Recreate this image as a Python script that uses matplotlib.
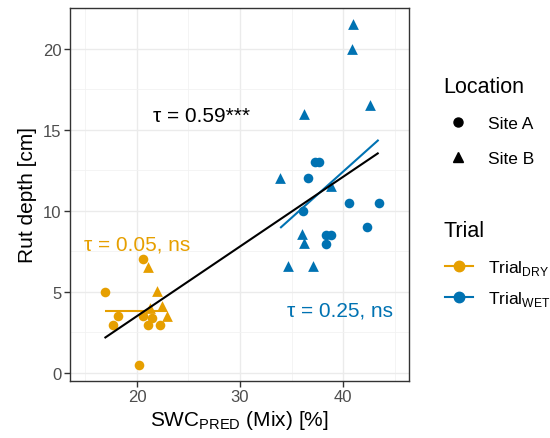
import matplotlib
matplotlib.use("Agg")
import matplotlib.pyplot as plt
import numpy as np

plt.rcParams['font.family'] = ['Liberation Sans', 'DejaVu Sans']
plt.rcParams['mathtext.fontset'] = 'custom'
plt.rcParams['mathtext.rm'] = 'Liberation Sans'

# ---- data ----
dry_A_x = [20.6, 16.85, 18.2, 17.7, 20.6, 21.1, 22.2, 21.5, 20.15]
dry_A_y = [7.0, 4.95, 3.5, 2.95, 3.5, 2.95, 2.95, 3.4, 0.45]
dry_B_x = [21.1, 21.9, 21.3, 22.4, 22.9]
dry_B_y = [6.5, 5.05, 4.0, 4.1, 3.5]
wet_A_x = [37.3, 37.7, 36.6, 40.55, 43.45, 36.1, 42.3, 38.3, 38.8, 38.3]
wet_A_y = [13.0, 13.0, 12.0, 10.5, 10.5, 10.0, 9.0, 8.5, 8.5, 7.95]
wet_B_x = [41.0, 40.9, 42.6, 36.2, 33.9, 38.8, 36.0, 36.2, 34.7, 37.1]
wet_B_y = [21.5, 20.0, 16.5, 16.0, 12.0, 11.5, 8.55, 8.0, 6.6, 6.6]

# linear fits (intercept, slope)
fit_dry = (3.8, 0.0)
fit_wet = (-10.39, 0.57)
fit_all = (-5.11, 0.43)

labels_tau = ["τ = 0.59***", "τ = 0.05, ns", "τ = 0.25, ns"]
label_pos_x = [26.25, 20.0, 39.7]
label_pos_y = [15.9, 7.93, 3.86]

x_ticks = [20, 30, 40]
y_ticks = [0, 5, 10, 15, 20]

location_labels = ['Site A', 'Site B']
trial_labels = [r"Trial$_{\mathregular{DRY}}$", r"Trial$_{\mathregular{WET}}$"]

C_DRY = '#E69F00'
C_WET = '#0072B2'

fig = plt.figure(figsize=(5.5, 4.39), dpi=100)
ax = fig.add_axes([70/550, 1-381.7/439, (409-70)/550, (381.7-9.3)/439])

ax.set_xlim(13.5, 46.4)
ax.set_ylim(-0.5, 22.48)

# grid
ax.set_xticks(x_ticks)
ax.set_yticks(y_ticks)
ax.set_xticks([15, 25, 35, 45], minor=True)
ax.set_yticks([2.5, 7.5, 12.5, 17.5, 22.5], minor=True)
ax.grid(which='major', color='#EBEBEB', linewidth=1.0, zorder=0)
ax.grid(which='minor', color='#F2F2F2', linewidth=0.6, zorder=0)
ax.set_axisbelow(True)
ax.tick_params(which='minor', length=0)
ax.tick_params(which='major', length=4, width=1.0, color='#333333',
               labelsize=12, labelcolor='#4D4D4D', pad=2)
for s in ax.spines.values():
    s.set_color('#333333')
    s.set_linewidth(1.0)

s_circ = 48
s_tri = 60
ax.scatter(dry_A_x, dry_A_y, s=s_circ, marker='o', color=C_DRY, linewidths=0, zorder=3)
ax.scatter(dry_B_x, dry_B_y, s=s_tri, marker='^', color=C_DRY, linewidths=0, zorder=3)
ax.scatter(wet_A_x, wet_A_y, s=s_circ, marker='o', color=C_WET, linewidths=0, zorder=3)
ax.scatter(wet_B_x, wet_B_y, s=s_tri, marker='^', color=C_WET, linewidths=0, zorder=3)

def fit_line(xs, fit, color, z):
    xs = np.array([min(xs), max(xs)])
    ax.plot(xs, fit[0] + fit[1]*xs, color=color, linewidth=1.5, zorder=z,
            solid_capstyle='butt')

dry_x = dry_A_x + dry_B_x
wet_x = wet_A_x + wet_B_x
fit_line(dry_x, fit_dry, C_DRY, 4)
fit_line(wet_x, fit_wet, C_WET, 4)
fit_line(dry_x + wet_x, fit_all, 'black', 5)

for lab, px, py, c in zip(labels_tau, label_pos_x, label_pos_y, ['black', C_DRY, C_WET]):
    ax.text(px, py, lab, color=c, fontsize=15, ha='center', va='center', zorder=6)

ax.set_xlabel(r"SWC$_{\mathregular{PRED}}$ (Mix) [%]", fontsize=15, labelpad=3)
ax.set_ylabel("Rut depth [cm]", fontsize=15, labelpad=4)

# ---- legends (drawn in a pixel-coordinate overlay) ----
lax = fig.add_axes([0, 0, 1, 1], zorder=10)
lax.set_xlim(0, 550)
lax.set_ylim(439, 0)
lax.axis('off')

lax.text(443, 93, 'Location', fontsize=15.5, ha='left', va='baseline')
lax.plot([458], [123], marker='o', color='black', markersize=6.5, linestyle='none')
lax.plot([458], [158], marker='^', color='black', markersize=7, linestyle='none')
lax.text(488, 129, location_labels[0], fontsize=12.5, ha='left', va='baseline')
lax.text(488, 164, location_labels[1], fontsize=12.5, ha='left', va='baseline')

lax.text(443, 237, 'Trial', fontsize=15.5, ha='left', va='baseline')
for yy, col, lab in zip([267, 298], [C_DRY, C_WET], trial_labels):
    lax.plot([445, 473], [yy, yy], color=col, linewidth=1.5)
    lax.plot([459], [yy], marker='o', color=col, markersize=7.5, linestyle='none')
    lax.text(488, yy + 6, lab, fontsize=12.5, ha='left', va='baseline')

fig.savefig('out.png', dpi=100)
